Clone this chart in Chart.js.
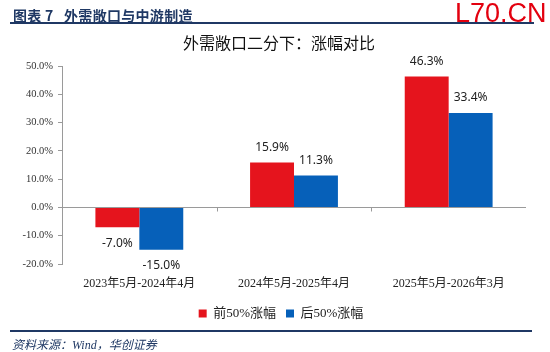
<!DOCTYPE html>
<html>
<head>
<meta charset="utf-8">
<script src="https://cdn.jsdelivr.net/npm/chart.js@4/dist/chart.umd.min.js"></script>
<style>
    body { margin: 0; background: #fff; }
    #wrap { position: relative; width: 550px; height: 352px; overflow: hidden; }
    #chartBox { position: absolute; left: 0; top: 0; width: 550px; height: 352px; }
    .txt { position: absolute; white-space: nowrap; }
    #head { left: 13px; top: 5px; font: bold 14px "Noto Sans CJK SC"; color: #1f3864; letter-spacing: 0.3px; }
    #headLine { left: 10px; top: 22px; width: 524px; height: 2px; background: #1f3864; }
    #mark { left: 455px; top: -2px; font: 27px "Liberation Sans"; color: #e3000f; }
    #title { left: 0; width: 558px; top: 30px; text-align: center; font: 16px "Noto Sans CJK SC"; color: #111; }
    #footLine { left: 10px; top: 330px; width: 522px; height: 2px; background: #1f3864; }
    #foot { left: 12px; top: 335px; font: italic 12px "Liberation Serif", "Noto Sans CJK SC"; color: #1f3864; }
</style>
</head>
<body>
<div id="wrap">
    <div id="chartBox"><canvas id="ddChart"></canvas></div>
    <div class="txt" id="head">图表 7&nbsp;&nbsp;&nbsp;外需敞口与中游制造</div>
    <div class="txt" id="headLine"></div>
    <div class="txt" id="mark">L70.CN</div>
    <div class="txt" id="title">外需敞口二分下：涨幅对比</div>
    <div class="txt" id="footLine"></div>
    <div class="txt" id="foot">资料来源：Wind，华创证券</div>
</div>
<script>
// data
let periods = ['2023年5月-2024年4月', '2024年5月-2025年4月', '2025年5月-2026年3月'];
let seriesNames = ['前50%涨幅', '后50%涨幅'];
let topHalf = [-7.0, 15.9, 46.3];
let bottomHalf = [-15.0, 11.3, 33.4];
let yTicks = [50, 40, 30, 20, 10, 0, -10, -20];

let red = '#e5141d';
let blue = '#0660b9';
let axisGray = '#9a9a9a';

// value labels at the end of each bar
let barLabels = {
    id: 'barLabels',
    afterDatasetsDraw(chart) {
        let ctx = chart.ctx;
        ctx.save();
        ctx.font = '12px "Noto Sans"';
        ctx.fillStyle = '#222';
        ctx.textAlign = 'center';
        ctx.textBaseline = 'middle';
        chart.data.datasets.forEach((ds, i) => {
            chart.getDatasetMeta(i).data.forEach((bar, j) => {
                let v = ds.data[j];
                let y = v >= 0 ? bar.y - 15 : bar.y + 16;
                ctx.fillText(v.toFixed(1) + '%', bar.x, y);
            });
        });
        ctx.restore();
    }
};

// little ticks on the zero line between categories
let zeroTicks = {
    id: 'zeroTicks',
    afterDraw(chart) {
        let x = chart.scales.x;
        let y0 = Math.round(chart.scales.y.getPixelForValue(0)) + 0.5;
        let ctx = chart.ctx;
        ctx.save();
        ctx.strokeStyle = axisGray;
        ctx.lineWidth = 1;
        for (let i = 0; i < periods.length - 1; i++) {
            let px = Math.round((x.getPixelForTick(i) + x.getPixelForTick(i + 1)) / 2) + 0.5;
            ctx.beginPath();
            ctx.moveTo(px, y0);
            ctx.lineTo(px, y0 + 4);
            ctx.stroke();
        }
        ctx.restore();
    }
};

// legend sits a little right of the canvas centre in the original
let legendShift = {
    id: 'legendShift',
    afterLayout(chart) {
        chart.legend.left += 12;
        chart.legend.right += 12;
    }
};

let ctx = document.getElementById('ddChart').getContext('2d');

let gapChart = new Chart(ctx, {
    type: 'bar',
    data: {
        labels: periods,
        datasets: [{
            label: seriesNames[0],
            data: topHalf,
            backgroundColor: red,
            categoryPercentage: 0.568,
            barPercentage: 1
        }, {
            label: seriesNames[1],
            data: bottomHalf,
            backgroundColor: blue,
            categoryPercentage: 0.568,
            barPercentage: 1
        }]
    },
    options: {
        responsive: true,
        maintainAspectRatio: false,
        animation: false,
        layout: {
            padding: { top: 66, left: 12, right: 24, bottom: 22 }
        },
        scales: {
            x: {
                grid: { display: false, drawTicks: false },
                border: { display: false },
                ticks: {
                    padding: 13,
                    color: '#222',
                    font: { family: '"Liberation Serif", "Noto Sans CJK SC"', size: 12 }
                },
                afterFit: (scale) => { scale.height = 33; }
            },
            y: {
                min: -20,
                max: 50,
                afterBuildTicks: (scale) => {
                    scale.ticks = yTicks.map(v => ({ value: v }));
                },
                border: { display: true, color: axisGray },
                grid: {
                    drawTicks: true,
                    tickLength: 4,
                    tickColor: axisGray,
                    color: (c) => c.tick && c.tick.value === 0 ? axisGray : 'rgba(0,0,0,0)'
                },
                ticks: {
                    padding: 5,
                    color: '#333',
                    font: { family: '"Liberation Serif"', size: 10.5 },
                    callback: (v) => v.toFixed(1) + '%'
                },
                afterFit: (scale) => { scale.width = 50; }
            }
        },
        plugins: {
            title: { display: false },
            tooltip: { enabled: false },
            legend: {
                position: 'bottom',
                labels: {
                    boxWidth: 8,
                    boxHeight: 8,
                    padding: 10,
                    color: '#222',
                    font: { family: '"Liberation Serif", "Noto Sans CJK SC"', size: 13 }
                }
            }
        }
    },
    plugins: [barLabels, zeroTicks, legendShift]
});
</script>
</body>
</html>
